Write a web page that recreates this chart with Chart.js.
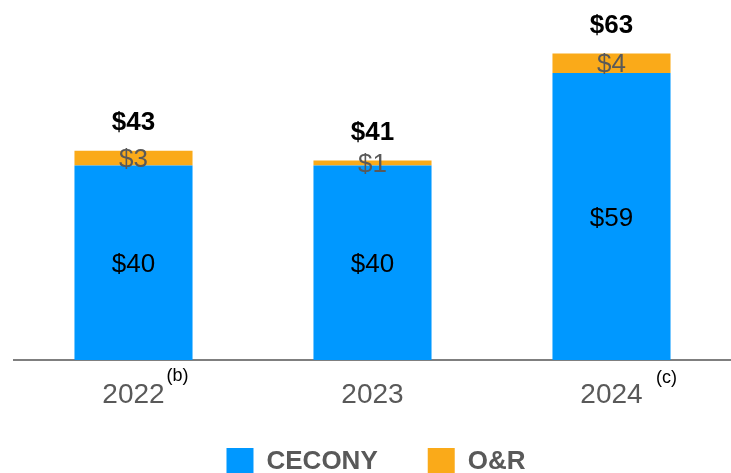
<!DOCTYPE html>
<html>
<head>
<meta charset="utf-8">
<script src="https://cdn.jsdelivr.net/npm/chart.js@4/dist/chart.umd.min.js"></script>
<style>
  html, body { margin: 0; padding: 0; background: #fff; }
  #wrap { width: 731px; height: 473px; }
</style>
</head>
<body>
<div id="wrap"><canvas id="myBarChart" width="731" height="473"></canvas></div>
<script>
// Chart data
const years = ["2022", "2023", "2024"];
const footnotes = ["(b)", "", "(c)"];
const cecony = [40, 40, 59];
const oandr = [3, 1, 4];
const totals = [43, 41, 63];

const grey = "#595959";
const fontFamily = "'Liberation Sans', Arial, sans-serif";

// Draws the $ labels on the bars, totals above, and the year labels with footnote marks
const labelPlugin = {
    id: "barLabels",
    afterDatasetsDraw(chart) {
        const ctx = chart.ctx;
        ctx.save();
        ctx.textAlign = "center";
        ctx.textBaseline = "middle";

        const metaC = chart.getDatasetMeta(0);
        const metaO = chart.getDatasetMeta(1);

        metaC.data.forEach(function (bar, i) {
            ctx.font = "26px " + fontFamily;
            ctx.fillStyle = "#000";
            ctx.fillText("$" + cecony[i], bar.x, (bar.y + bar.base) / 2 + 2);
        });

        metaO.data.forEach(function (bar, i) {
            ctx.font = "26px " + fontFamily;
            ctx.fillStyle = grey;
            ctx.fillText("$" + oandr[i], bar.x, (bar.y + bar.base) / 2 + 2);

            ctx.font = "bold 26px " + fontFamily;
            ctx.fillStyle = "#000";
            ctx.fillText("$" + totals[i], bar.x, bar.y - 28);
        });

        // year labels under the axis, footnote marks beside them
        const xScale = chart.scales.x;
        const yBase = chart.chartArea.bottom;
        chart.data.labels.forEach(function (year, i) {
            const x = xScale.getPixelForValue(i);
            ctx.font = "28px " + fontFamily;
            ctx.fillStyle = grey;
            ctx.fillText(year, x, yBase + 35);

            const note = footnotes[i];
            if (!note) return;
            ctx.font = "18px " + fontFamily;
            ctx.fillStyle = "#000";
            if (i === 0) {
                ctx.fillText(note, x + 44, yBase + 16);
            } else {
                ctx.fillText(note, x + 55, yBase + 18);
            }
        });
        ctx.restore();
    }
};

const ctx = document.getElementById("myBarChart").getContext("2d");

new Chart(ctx, {
    type: "bar",
    data: {
        labels: years,
        datasets: [
            {
                label: "CECONY",
                data: cecony,
                backgroundColor: "#0098FF",
                categoryPercentage: 1,
                barPercentage: 0.494
            },
            {
                label: "O&R",
                data: oandr,
                backgroundColor: "#FAAA19",
                categoryPercentage: 1,
                barPercentage: 0.494
            }
        ]
    },
    options: {
        responsive: false,
        animation: false,
        layout: {
            padding: { left: 14, right: -7, top: 0, bottom: 0 }
        },
        scales: {
            x: {
                stacked: true,
                grid: { display: false, drawTicks: false },
                border: { display: true, color: "#7F7F7F", width: 2 },
                ticks: { display: false },
                afterFit: function (scale) {
                    scale.height = 38;
                }
            },
            y: {
                stacked: true,
                display: false,
                min: 0,
                max: 74
            }
        },
        plugins: {
            tooltip: { enabled: false },
            legend: {
                position: "bottom",
                maxHeight: 75,
                labels: {
                    boxWidth: 27,
                    boxHeight: 27,
                    padding: 50,
                    color: grey,
                    font: { family: fontFamily, size: 26, weight: "bold" }
                }
            }
        }
    },
    plugins: [labelPlugin]
});
</script>
</body>
</html>
